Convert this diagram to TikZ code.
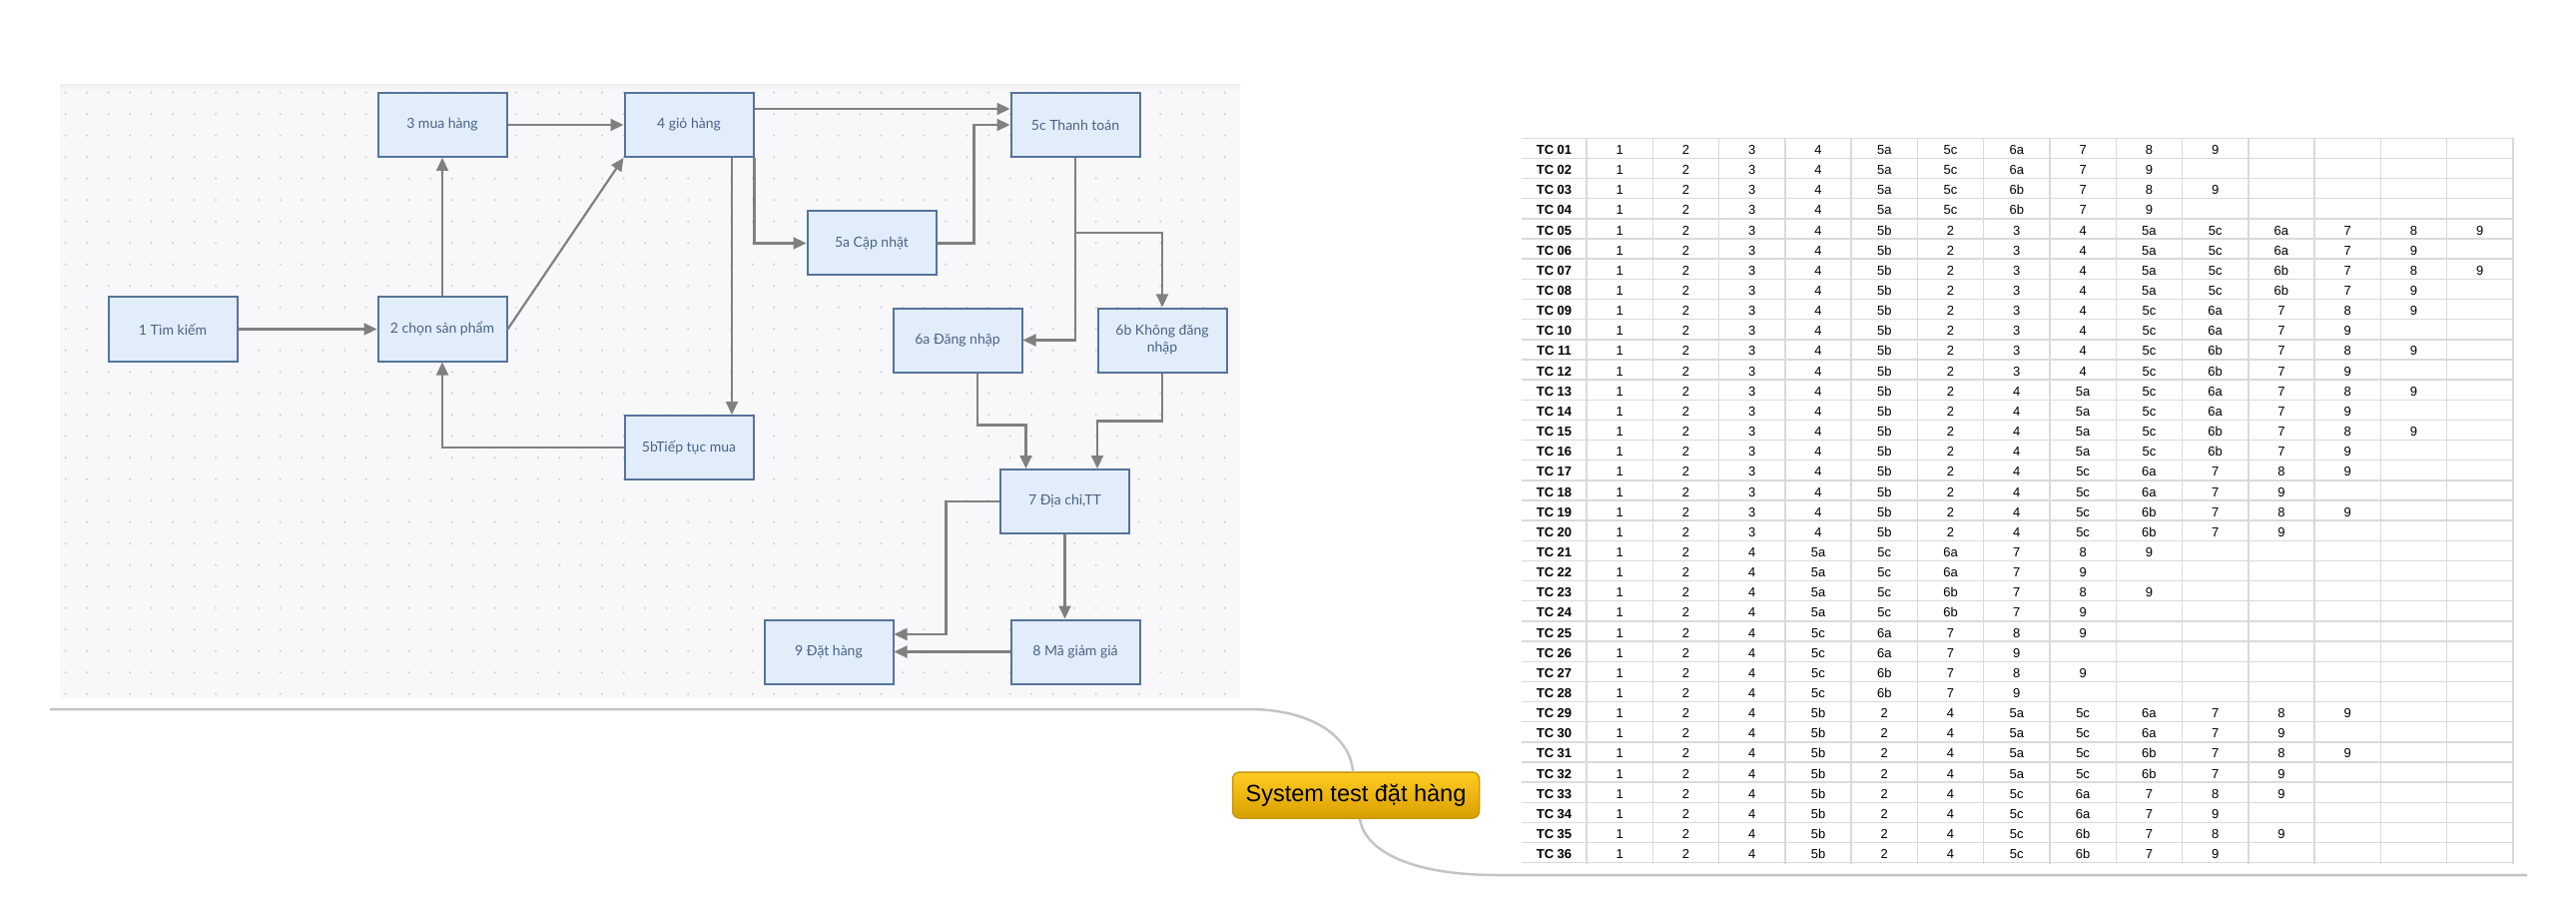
\documentclass[tikz,border=0pt]{standalone}
\usepackage{fontspec}
\setmainfont{Liberation Sans}
\newfontfamily\latofont{Lato}
\usetikzlibrary{arrows.meta,calc}
\definecolor{boxfill}{HTML}{E2EDFB}
\definecolor{boxdraw}{HTML}{56739B}
\definecolor{boxtext}{HTML}{4A6285}
\definecolor{conncol}{HTML}{808080}
\definecolor{panelfill}{HTML}{F8F8FA}
\definecolor{paneltop}{HTML}{F0F0F2}
\definecolor{dotcol}{HTML}{D0D1D7}
\definecolor{mmline}{HTML}{C4C4C4}
\definecolor{gridcol}{HTML}{DADADA}
\definecolor{rootA}{HTML}{FFCC22}
\definecolor{rootB}{HTML}{D9A000}
\definecolor{rootdraw}{HTML}{C8980C}
\begin{document}
\begin{tikzpicture}[x=1pt,y=-1pt,
  flowbox/.style={draw=boxdraw, fill=boxfill, line width=2pt, minimum width=129pt,
    minimum height=64pt, inner sep=2pt, text=boxtext, align=center,
    font=\latofont\fontsize{14}{17}\selectfont},
  conn/.style={draw=conncol, line width=2.2pt, -{Triangle[length=13pt,width=12pt]}},
  mm/.style={draw=mmline, line width=2.5pt},
  gridline/.style={draw=gridcol, line width=1.4pt},
  cell/.style={inner sep=0pt, anchor=base, font=\fontsize{13}{15}\selectfont},
  tccell/.style={cell, font=\bfseries\fontsize{13}{15}\selectfont},
  rootbox/.style={draw=rootdraw, line width=1.5pt, rounded corners=7pt,
    top color=rootA, bottom color=rootB, minimum width=247pt, minimum height=46pt,
    inner sep=0pt, font=\fontsize{23.5}{28}\selectfont, text=black}
]
\useasboundingbox (0,0) rectangle (2580,925);
\fill[white] (0,0) rectangle (2580,925);

% ---------- flow panel ----------
\fill[panelfill] (60,85) rectangle (1242,699);
\shade[top color=paneltop, bottom color=panelfill] (60,85) rectangle (1242,90);
\foreach \i in {0,...,54}{
  \foreach \j in {0,...,28}{
    \fill[dotcol] (65.7+21.5*\i, 92.7+21.5*\j) circle (1.2);
  }
}

\node[flowbox] (b3)  at (443,125)    {3 mua hàng};
\node[flowbox] (b4)  at (690,125)    {4 giỏ hàng};
\node[flowbox] (b5c) at (1077,125)   {5c Thanh toán};
\node[flowbox] (b1)  at (173,329.5)  {1 Tìm kiếm};
\node[flowbox] (b2)  at (443,329.5)  {2 chọn sản phẩm};
\node[flowbox] (b5a) at (873,243.5)  {5a Cập nhật};
\node[flowbox] (b6a) at (959,340.5)  {6a Đăng nhập};
\node[flowbox] (b6b) at (1164,340.5) {6b Không đăng\\nhập};
\node[flowbox] (b5b) at (690,448)    {5bTiếp tục mua};
\node[flowbox] (b7)  at (1066.5,502) {7 Địa chỉ,TT};
\node[flowbox] (b9)  at (830,652.5)  {9 Đặt hàng};
\node[flowbox] (b8)  at (1077,652.5) {8 Mã giảm giá};

\draw[conn] (b1.east) -- (b2.west);
\draw[conn] (b2.north) -- (b3.south);
\draw[conn] (b2.east) -- (b4.south west);
\draw[conn] (b3.east) -- (b4.west);
\draw[conn] ([yshift=16pt]b4.east) -- ([yshift=16pt]b5c.west);
\draw[conn] (b4.south east) |- (b5a.west);
\draw[conn] ([xshift=43pt]b4.south) -- ([xshift=43pt]b5b.north);
\draw[conn] (b5b.west) -| (b2.south);
\draw[conn] (b5a.east) -- ++(37,0) |- (b5c.west);
\draw[conn] (b5c.south) |- (b6a.east);
\draw[conn] ($(b5c.south)+(0,75)$) -| (b6b.north);
\draw[conn] ([xshift=20pt]b6a.south) -- ++(0,52) -| ([xshift=-39pt]b7.north);
\draw[conn] (b6b.south) -- ++(0,48) -| ([xshift=32.5pt]b7.north);
\draw[conn] (b7.west) -- ++(-53.6,0) |- ([yshift=17.5pt]b9.east);
\draw[conn] (b7.south) -- (b7.south |- b8.north);
\draw[conn] (b8.west) -- (b9.east);

% ---------- mind map root ----------
\node[rootbox] (root) at (1358,796) {System test đặt hàng};
\coordinate (mmL) at (50,710);
\coordinate (mmR) at (2531,876);
\draw[mm] (mmL) -- (1251,710) .. controls (1310,710) and (1352,735) .. ([xshift=-3pt]root.north);
\draw[mm] ([xshift=4pt]root.south) .. controls (1365,845) and (1400,876) .. (1500,876) -- (mmR);

% ---------- table ----------
\foreach \k in {0,...,36}{
  \draw[gridline] (1524,138.3+20.15*\k) -- (2517,138.3+20.15*\k);
}
\foreach \k in {0,...,14}{
  \draw[gridline] (1589+66.28*\k,138.3) -- (1589+66.28*\k,865);
}
\def\rowdata{{1,2,3,4,5a,5c,6a,7,8,9},{1,2,3,4,5a,5c,6a,7,9},{1,2,3,4,5a,5c,6b,7,8,9},{1,2,3,4,5a,5c,6b,7,9},
{1,2,3,4,5b,2,3,4,5a,5c,6a,7,8,9},{1,2,3,4,5b,2,3,4,5a,5c,6a,7,9},{1,2,3,4,5b,2,3,4,5a,5c,6b,7,8,9},{1,2,3,4,5b,2,3,4,5a,5c,6b,7,9},
{1,2,3,4,5b,2,3,4,5c,6a,7,8,9},{1,2,3,4,5b,2,3,4,5c,6a,7,9},{1,2,3,4,5b,2,3,4,5c,6b,7,8,9},{1,2,3,4,5b,2,3,4,5c,6b,7,9},
{1,2,3,4,5b,2,4,5a,5c,6a,7,8,9},{1,2,3,4,5b,2,4,5a,5c,6a,7,9},{1,2,3,4,5b,2,4,5a,5c,6b,7,8,9},{1,2,3,4,5b,2,4,5a,5c,6b,7,9},
{1,2,3,4,5b,2,4,5c,6a,7,8,9},{1,2,3,4,5b,2,4,5c,6a,7,9},{1,2,3,4,5b,2,4,5c,6b,7,8,9},{1,2,3,4,5b,2,4,5c,6b,7,9},
{1,2,4,5a,5c,6a,7,8,9},{1,2,4,5a,5c,6a,7,9},{1,2,4,5a,5c,6b,7,8,9},{1,2,4,5a,5c,6b,7,9},
{1,2,4,5c,6a,7,8,9},{1,2,4,5c,6a,7,9},{1,2,4,5c,6b,7,8,9},{1,2,4,5c,6b,7,9},
{1,2,4,5b,2,4,5a,5c,6a,7,8,9},{1,2,4,5b,2,4,5a,5c,6a,7,9},{1,2,4,5b,2,4,5a,5c,6b,7,8,9},{1,2,4,5b,2,4,5a,5c,6b,7,9},
{1,2,4,5b,2,4,5c,6a,7,8,9},{1,2,4,5b,2,4,5c,6a,7,9},{1,2,4,5b,2,4,5c,6b,7,8,9},{1,2,4,5b,2,4,5c,6b,7,9}}
\foreach \r [count=\i] in \rowdata {
  \pgfmathsetmacro\yb{138.3+20.15*\i-4}
  \node[tccell] (tc\i) at (1556.5,\yb) {TC \ifnum\i<10 0\fi\i};
  \foreach \c [count=\j] in \r {
    \node[cell] (c\i-\j) at (1589+66.28*\j-33.14,\yb) {\c};
  }
}
\end{tikzpicture}
\end{document}
